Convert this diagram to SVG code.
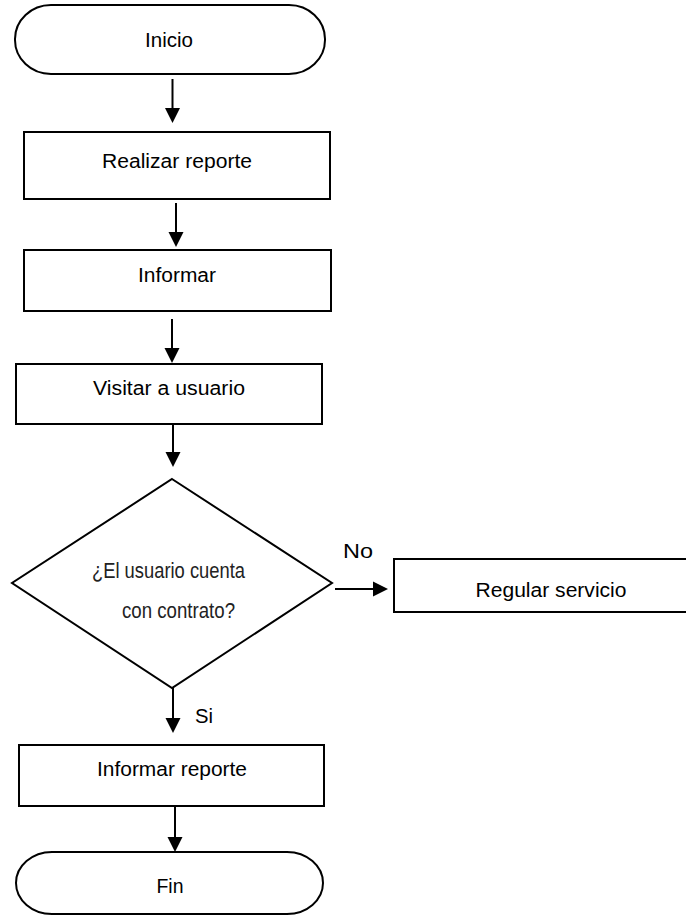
<svg xmlns="http://www.w3.org/2000/svg" width="686" height="918" viewBox="0 0 686 918">
<defs>
<style>
.s{fill:#fff;stroke:#000;stroke-width:2}
.t{font-family:"Liberation Sans",Arial,sans-serif;font-size:20px;fill:#000;text-anchor:middle}
.d{font-family:"Liberation Sans",Arial,sans-serif;font-size:22px;fill:#222;text-anchor:middle}
.c{stroke:#000;stroke-width:2;fill:none}
.h{fill:#000;stroke:none}
</style>
</defs>
<rect width="686" height="918" fill="#fff"/>
<g id="inicio"><rect class="s" x="15" y="5" width="310" height="69" rx="36" ry="34"/><text class="t" x="169" y="47" textLength="48" lengthAdjust="spacingAndGlyphs">Inicio</text></g>
<g id="realizar"><rect class="s" x="24" y="132" width="306" height="67"/><text class="t" x="177" y="168" textLength="150" lengthAdjust="spacingAndGlyphs">Realizar reporte</text></g>
<g id="informar"><rect class="s" x="24" y="250" width="307" height="61"/><text class="t" x="177" y="282" textLength="78" lengthAdjust="spacingAndGlyphs">Informar</text></g>
<g id="visitar"><rect class="s" x="16" y="364" width="306" height="60"/><text class="t" x="169" y="395" textLength="152" lengthAdjust="spacingAndGlyphs">Visitar a usuario</text></g>
<g id="decision"><polygon class="s" points="172,479 332,583 172,688 12,583"/><text class="d" x="168.5" y="578" textLength="153" lengthAdjust="spacingAndGlyphs">¿El usuario cuenta</text><text class="d" x="178.5" y="618" textLength="113" lengthAdjust="spacingAndGlyphs">con contrato?</text></g>
<g id="regular"><rect class="s" x="394" y="559" width="300" height="53"/><text class="t" x="551" y="597" textLength="151" lengthAdjust="spacingAndGlyphs">Regular servicio</text></g>
<g id="informar-reporte"><rect class="s" x="19" y="745" width="305" height="61"/><text class="t" x="172" y="776" textLength="150" lengthAdjust="spacingAndGlyphs">Informar reporte</text></g>
<g id="fin"><rect class="s" x="16" y="852" width="307" height="62" rx="36" ry="31"/><text class="t" x="170" y="893" textLength="27" lengthAdjust="spacingAndGlyphs">Fin</text></g>
<g id="connectors">
<line class="c" x1="172.5" y1="79" x2="172.5" y2="109"/><polygon class="h" points="165,108 180,108 172.5,123"/>
<line class="c" x1="176" y1="203" x2="176" y2="233"/><polygon class="h" points="168.5,232 183.5,232 176,247"/>
<line class="c" x1="172" y1="319" x2="172" y2="349"/><polygon class="h" points="164.5,348 179.5,348 172,363"/>
<line class="c" x1="173" y1="424" x2="173" y2="453"/><polygon class="h" points="165.5,452 180.5,452 173,467"/>
<line class="c" x1="173" y1="688" x2="173" y2="719"/><polygon class="h" points="165.5,718 180.5,718 173,733"/>
<line class="c" x1="175" y1="806" x2="175" y2="838"/><polygon class="h" points="167.5,837 182.5,837 175,852"/>
<line class="c" x1="335" y1="589" x2="374" y2="589"/><polygon class="h" points="373,581.5 373,596.5 388,589"/>
<text class="t" x="358" y="558" textLength="30" lengthAdjust="spacingAndGlyphs">No</text>
<text class="t" x="204" y="723" textLength="18" lengthAdjust="spacingAndGlyphs">Si</text>
</g>
</svg>
